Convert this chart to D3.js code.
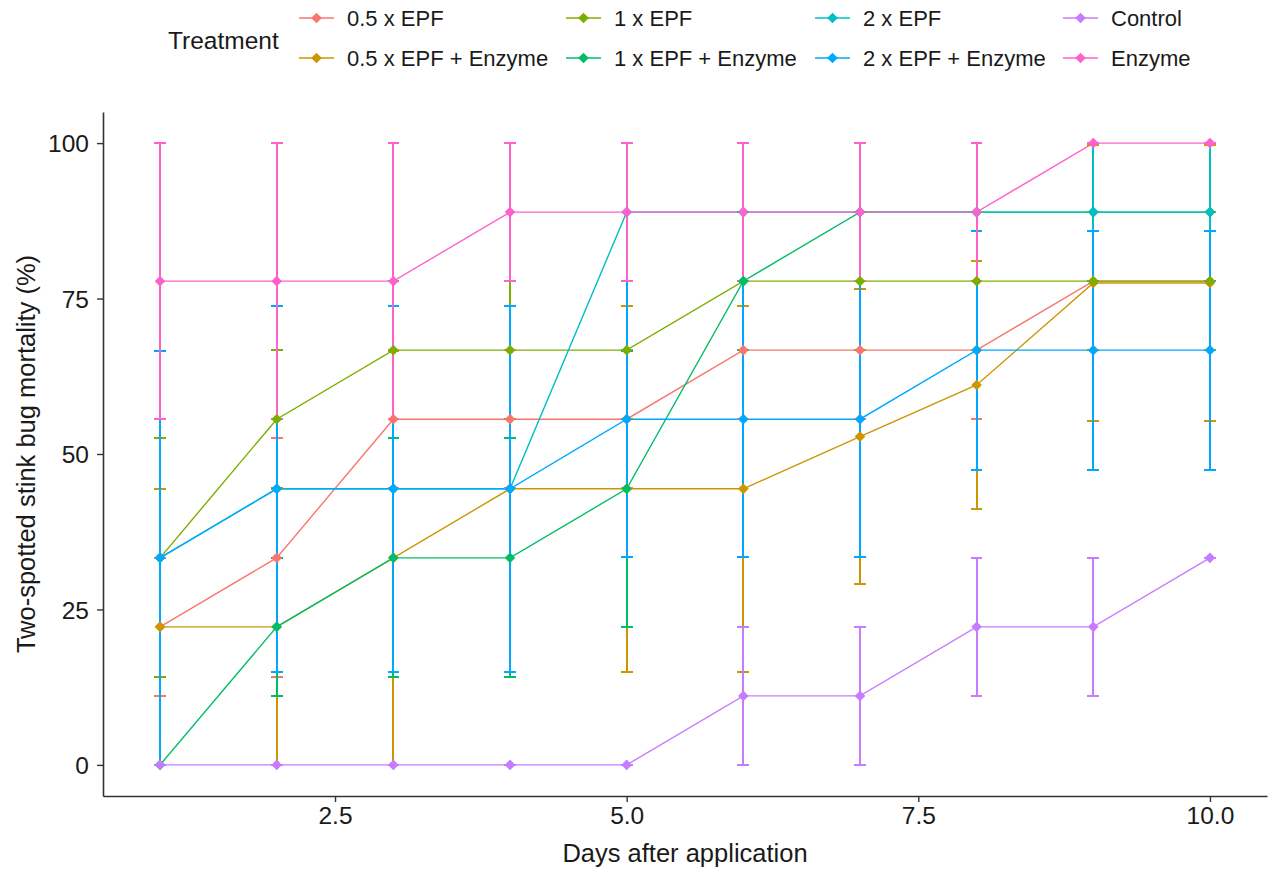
<!DOCTYPE html>
<html>
<head>
<meta charset="utf-8">
<script src="https://cdn.jsdelivr.net/npm/d3@7"></script>
<style>
  html, body { margin: 0; padding: 0; background: #fff; }
  svg text { font-family: "Liberation Sans", Arial, sans-serif; }
</style>
</head>
<body>
<svg id="chart" width="1270" height="873"></svg>
<script>
// Days after application
const days = [1, 2, 3, 4, 5, 6, 7, 8, 9, 10];

// Treatment groups (plotting / legend order) and their colours
const treatments = [
  "0.5 x EPF", "0.5 x EPF + Enzyme", "1 x EPF", "1 x EPF + Enzyme",
  "2 x EPF", "2 x EPF + Enzyme", "Control", "Enzyme"
];
const colors = ["#F8766D", "#CD9600", "#7CAE00", "#00BE67",
                "#00BFC4", "#00A9FF", "#C77CFF", "#FF61CC"];

// Mean mortality (%) per treatment and day
const meanHalfEPF       = [22.2, 33.3, 55.6, 55.6, 55.6, 66.7, 66.7, 66.7, 77.8, 77.8];
const meanHalfEPFEnz    = [22.2, 22.2, 33.3, 44.4, 44.4, 44.4, 52.8, 61.1, 77.5, 77.5];
const meanOneEPF        = [33.3, 55.6, 66.7, 66.7, 66.7, 77.8, 77.8, 77.8, 77.8, 77.8];
const meanOneEPFEnz     = [0, 22.2, 33.3, 33.3, 44.4, 77.8, 88.9, 88.9, 88.9, 88.9];
const meanTwoEPF        = [33.3, 44.4, 44.4, 44.4, 88.9, 88.9, 88.9, 88.9, 88.9, 88.9];
const meanTwoEPFEnz     = [33.3, 44.4, 44.4, 44.4, 55.6, 55.6, 55.6, 66.7, 66.7, 66.7];
const meanControl       = [0, 0, 0, 0, 0, 11.1, 11.1, 22.2, 22.2, 33.3];
const meanEnzyme        = [77.8, 77.8, 77.8, 88.9, 88.9, 88.9, 88.9, 88.9, 100, 100];

// Standard errors (%)
const seHalfEPF         = [11.1, 19.2, 11.1, 11.1, 11.1, 11.1, 11.1, 11.1, 11.1, 11.1];
const seHalfEPFEnz      = [22.2, 22.2, 33.3, 29.4, 29.4, 29.4, 23.7, 19.9, 22.2, 22.2];
const seOneEPF          = [19.2, 11.1, 11.1, 11.1, 11.1, 11.1, 11.1, 11.1, 11.1, 11.1];
const seOneEPFEnz       = [0, 11.1, 19.2, 19.2, 22.2, 11.1, 11.1, 11.1, 11.1, 11.1];
const seTwoEPF          = [33.3, 29.4, 29.4, 29.4, 11.1, 11.1, 11.1, 11.1, 11.1, 11.1];
const seTwoEPFEnz       = [33.3, 29.4, 29.4, 29.4, 22.2, 22.2, 22.2, 19.2, 19.2, 19.2];
const seControl         = [0, 0, 0, 0, 0, 11.1, 11.1, 11.1, 11.1, 0];
const seEnzyme          = [22.2, 22.2, 22.2, 11.1, 11.1, 11.1, 11.1, 11.1, 0, 0];

// Axis ticks
const xTicks = [2.5, 5.0, 7.5, 10.0];
const yTicks = [0, 25, 50, 75, 100];

const means = [meanHalfEPF, meanHalfEPFEnz, meanOneEPF, meanOneEPFEnz,
               meanTwoEPF, meanTwoEPFEnz, meanControl, meanEnzyme];
const ses = [seHalfEPF, seHalfEPFEnz, seOneEPF, seOneEPFEnz,
             seTwoEPF, seTwoEPFEnz, seControl, seEnzyme];

const series = treatments.map((name, i) => ({
  name,
  color: colors[i],
  values: days.map((d, j) => ({ day: d, mean: means[i][j], se: ses[i][j] }))
}));

const svg = d3.select("#chart");

const panel = { left: 103, right: 1267, top: 112, bottom: 796 };
const x = d3.scaleLinear().domain([0.511, 10.489]).range([panel.left, panel.right]);
const y = d3.scaleLinear().domain([-5, 105]).range([panel.bottom, panel.top]);

const capHalf = 0.05; // error bar cap half-width in days
const axisColor = "#333333";
const textColor = "#1a1a1a";

// Connecting lines
const line = d3.line().x(d => x(d.day)).y(d => y(d.mean));
svg.append("g").selectAll("path")
  .data(series).join("path")
  .attr("d", d => line(d.values))
  .attr("fill", "none")
  .attr("stroke", d => d.color)
  .attr("stroke-width", 1.4);

// Error bars (crisp so overlapping bars of later groups fully cover earlier ones)
const eb = svg.append("g").attr("shape-rendering", "crispEdges");
series.forEach(s => {
  const g = eb.append("g").attr("stroke", s.color).attr("stroke-width", 2)
    .attr("fill", "none");
  g.selectAll("path").data(s.values).join("path")
    .attr("d", d => {
      const lo = y(d.mean - d.se), hi = y(d.mean + d.se);
      const xl = x(d.day - capHalf), xr = x(d.day + capHalf), xc = x(d.day);
      return `M${xl},${hi}H${xr}M${xc},${hi}V${lo}M${xl},${lo}H${xr}`;
    });
});

// Points (diamonds)
const diamond = d3.symbol().type(d3.symbolDiamond2).size(72);
const pts = svg.append("g");
series.forEach(s => {
  pts.append("g").selectAll("path").data(s.values).join("path")
    .attr("transform", d => `translate(${x(d.day)},${y(d.mean)})`)
    .attr("d", diamond)
    .attr("fill", s.color);
});

// Axes
const xAxis = svg.append("g")
  .attr("transform", `translate(0,${panel.bottom})`)
  .call(d3.axisBottom(x).tickValues(xTicks).tickFormat(d3.format(".1f"))
    .tickSizeInner(6).tickSizeOuter(0).tickPadding(4));
const yAxis = svg.append("g")
  .attr("transform", `translate(${panel.left},0)`)
  .call(d3.axisLeft(y).tickValues(yTicks).tickSizeInner(6).tickSizeOuter(0).tickPadding(8));

[xAxis, yAxis].forEach(a => {
  a.select(".domain").attr("stroke", axisColor).attr("stroke-width", 1.6);
  a.selectAll(".tick line").attr("stroke", axisColor).attr("stroke-width", 1.4);
  a.selectAll(".tick text").attr("fill", textColor).style("font-size", "24.5px");
});
yAxis.selectAll(".tick text").attr("dy", "0.36em");
xAxis.selectAll(".tick text").attr("dy", "0.74em");

// Axis titles
svg.append("text")
  .attr("x", (panel.left + panel.right) / 2).attr("y", 862)
  .attr("text-anchor", "middle").attr("fill", textColor)
  .style("font-size", "25.5px")
  .text("Days after application");

svg.append("text")
  .attr("transform", `translate(35,${(panel.top + panel.bottom) / 2}) rotate(-90)`)
  .attr("text-anchor", "middle").attr("fill", textColor)
  .style("font-size", "25.5px")
  .text("Two-spotted stink bug mortality (%)");

// Legend
const legend = svg.append("g");
legend.append("text")
  .attr("x", 168).attr("y", 49)
  .attr("fill", textColor).style("font-size", "24.5px")
  .text("Treatment");

const colX = [299, 566, 815, 1063];
const rowY = [18, 58];
treatments.forEach((name, i) => {
  const col = Math.floor(i / 2), row = i % 2;
  const kx = colX[col], ky = rowY[row];
  const g = legend.append("g").attr("transform", `translate(${kx},${ky})`);
  g.append("line").attr("x1", 0).attr("x2", 35).attr("y1", 0).attr("y2", 0)
    .attr("stroke", colors[i]).attr("stroke-width", 1.4);
  g.append("path").attr("transform", "translate(17.5,0)").attr("d", diamond).attr("fill", colors[i]);
  g.append("text").attr("x", 48).attr("y", 0).attr("dy", "0.36em")
    .attr("fill", textColor).style("font-size", "22px")
    .text(name);
});
</script>
</body>
</html>
